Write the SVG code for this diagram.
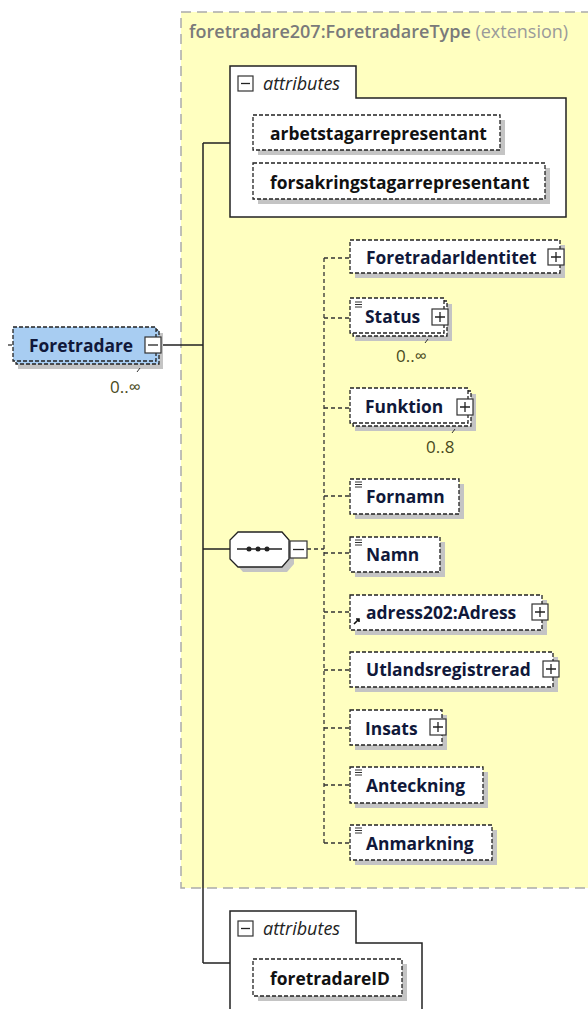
<svg xmlns="http://www.w3.org/2000/svg" width="588" height="1009" viewBox="0 0 588 1009">
<style>
.lbl{font-family:"Open Sans","Noto Sans",sans-serif;font-weight:bold;font-size:17.4px;fill:#10183a}
.attr{font-family:"Open Sans","Noto Sans",sans-serif;font-weight:bold;font-size:17.4px;fill:#111}
.it{font-family:"Open Sans","Noto Sans",sans-serif;font-style:italic;font-size:18px;fill:#222}
.card{font-family:"Open Sans","Noto Sans",sans-serif;font-size:17px;fill:#4a4a20}
.box{fill:#fff;stroke:#222;stroke-width:1.3;stroke-dasharray:4 2}
.shadow{fill:#c4c4c4}
.sq{fill:#fff;stroke:#333;stroke-width:1.2}
.sym{stroke:#222;stroke-width:1.3;fill:none}
.solid{stroke:#222;stroke-width:1.5;fill:none}
.dash{stroke:#333;stroke-width:1.3;fill:none;stroke-dasharray:4 3}
.ico{stroke:#333;stroke-width:1}
</style>
<rect width="588" height="1009" fill="#fff"/>
<g id="extension">
<rect x="181" y="12" width="420" height="876" fill="#ffffc0" stroke="#aaa" stroke-width="1.5" stroke-dasharray="10 6"/>
<text x="189" y="38" style="font-family:'Open Sans','Noto Sans',sans-serif;font-size:18px;font-weight:600;fill:#7a7a7a">foretradare207:ForetradareType <tspan style="font-weight:normal;fill:#9a9a9a">(extension)</tspan></text>
</g>
<g id="connectors">
<path class="solid" d="M160 345H203M203 143V963M203 143H230M203 549H230M203 963H230"/>
<path class="dash" d="M307 549H324M324 258V843M324 258H350M324 318H350M324 408H350M324 496H350M324 553H350M324 612H350M324 670H350M324 728H350M324 785H350M324 843H350"/>
<path class="dash" d="M8 345H14"/>
</g>
<g id="attributes1">
<path d="M230 66H356V98H566V217H230Z" fill="#fff" stroke="#222" stroke-width="1.5"/>
<rect class="sq" x="238" y="76" width="15" height="15"/><path class="sym" d="M241 83.5H250"/>
<text class="it" x="263" y="90">attributes</text>
</g>
<g id="arbetstagarrepresentant">
<rect class="shadow" x="258" y="120" width="247" height="35"/>
<rect class="box" x="253" y="115" width="247" height="35"/>
<text class="attr" x="270" y="140">arbetstagarrepresentant</text>
</g>
<g id="forsakringstagarrepresentant">
<rect class="shadow" x="258" y="168" width="292" height="36"/>
<rect class="box" x="253" y="163" width="292" height="36"/>
<text class="attr" x="270" y="189">forsakringstagarrepresentant</text>
</g>
<g id="Foretradare">
<rect class="shadow" x="18" y="333" width="145" height="36"/>
<rect x="16" y="330" width="143" height="34" fill="#a8cdf2" stroke="#222" stroke-width="1.3" stroke-dasharray="4 2"/>
<rect x="13" y="327" width="143" height="34" fill="#a8cdf2" stroke="#222" stroke-width="1.3" stroke-dasharray="4 2"/>
<text class="lbl" x="29" y="352">Foretradare</text>
<rect class="sq" x="145" y="337" width="16" height="16"/><path class="sym" d="M148 345H158"/>
<path class="ico" d="M140 368l-3 4"/>
<text class="card" x="110" y="393">0..∞</text>
</g>
<g id="sequence">
<path d="M243 537H287L294 545V564L287 572H243L236 564V545Z" fill="#c4c4c4"/>
<path d="M238 532H282L289 540V559L282 567H238L230 559V540Z" fill="#fff" stroke="#222" stroke-width="1.3"/>
<path d="M237 549H282" stroke="#222" stroke-width="1.3"/>
<circle cx="249" cy="549" r="2.5" fill="#222"/><circle cx="258" cy="549" r="2.5" fill="#222"/><circle cx="267" cy="549" r="2.5" fill="#222"/>
<rect class="sq" x="290" y="541" width="17" height="17"/><path class="sym" d="M293 549.5H304"/>
</g>
<g id="ForetradarIdentitet">
<rect class="shadow" x="355" y="245" width="210" height="33"/>
<rect class="box" x="350" y="240" width="210" height="33"/>
<text class="lbl" x="366" y="264">ForetradarIdentitet</text>
<rect class="sq" x="548" y="249" width="16" height="16"/><path class="sym" d="M551 257H561M556 252V262"/>
</g>
<g id="Status">
<rect class="shadow" x="355" y="304" width="97" height="37"/>
<rect class="box" x="353" y="301" width="94" height="35"/>
<rect class="box" x="350" y="298" width="94" height="35"/>
<path class="ico" d="M355 302h7M355 304.5h7M355 307h7"/>
<text class="lbl" x="365" y="323">Status</text>
<rect class="sq" x="432" y="309" width="16" height="16"/><path class="sym" d="M435 317H445M440 312V322"/>
<path class="ico" d="M428 339l-3 4"/>
<text class="card" x="396" y="362">0..∞</text>
</g>
<g id="Funktion">
<rect class="shadow" x="355" y="394" width="121" height="37"/>
<rect class="box" x="353" y="391" width="118" height="35"/>
<rect class="box" x="350" y="388" width="118" height="35"/>
<text class="lbl" x="365" y="413">Funktion</text>
<rect class="sq" x="457" y="399" width="16" height="16"/><path class="sym" d="M460 407H470M465 402V412"/>
<path class="ico" d="M455 429l-3 4"/>
<text class="card" x="426" y="453">0..8</text>
</g>
<g id="Fornamn">
<rect class="shadow" x="355" y="484" width="109" height="35"/>
<rect class="box" x="350" y="479" width="109" height="35"/>
<path class="ico" d="M355 482h7M355 484.5h7M355 487h7"/>
<text class="lbl" x="366" y="503">Fornamn</text>
</g>
<g id="Namn">
<rect class="shadow" x="355" y="542" width="90" height="35"/>
<rect class="box" x="350" y="537" width="90" height="35"/>
<path class="ico" d="M355 540h7M355 542.5h7M355 545h7"/>
<text class="lbl" x="366" y="561">Namn</text>
</g>
<g id="adress202_Adress">
<rect class="shadow" x="355" y="600" width="192" height="35"/>
<rect class="box" x="350" y="595" width="192" height="35"/>
<path d="M354 624l5-5M356 619h3v3" stroke="#111" stroke-width="1.6" fill="none"/>
<text class="lbl" x="366" y="619">adress202:Adress</text>
<rect class="sq" x="532" y="604" width="16" height="16"/><path class="sym" d="M535 612H545M540 607V617"/>
</g>
<g id="Utlandsregistrerad">
<rect class="shadow" x="355" y="657" width="203" height="35"/>
<rect class="box" x="350" y="652" width="203" height="35"/>
<text class="lbl" x="366" y="676">Utlandsregistrerad</text>
<rect class="sq" x="543" y="661" width="16" height="16"/><path class="sym" d="M546 669H556M551 664V674"/>
</g>
<g id="Insats">
<rect class="shadow" x="355" y="715" width="92" height="35"/>
<rect class="box" x="350" y="710" width="92" height="35"/>
<text class="lbl" x="365" y="735">Insats</text>
<rect class="sq" x="430" y="719" width="16" height="16"/><path class="sym" d="M433 727H443M438 722V732"/>
</g>
<g id="Anteckning">
<rect class="shadow" x="355" y="772" width="133" height="36"/>
<rect class="box" x="350" y="767" width="133" height="36"/>
<path class="ico" d="M355 770h7M355 772.5h7M355 775h7"/>
<text class="lbl" x="366" y="792">Anteckning</text>
</g>
<g id="Anmarkning">
<rect class="shadow" x="355" y="830" width="142" height="35"/>
<rect class="box" x="350" y="825" width="142" height="35"/>
<path class="ico" d="M355 828h7M355 830.5h7M355 833h7"/>
<text class="lbl" x="366" y="850">Anmarkning</text>
</g>
<g id="attributes2">
<path d="M230 1012V911H356V943H422V1012" fill="#fff" stroke="#222" stroke-width="1.5"/>
<rect class="sq" x="238" y="921" width="15" height="15"/><path class="sym" d="M241 928.5H250"/>
<text class="it" x="263" y="935">attributes</text>
</g>
<g id="foretradareID">
<rect class="shadow" x="258" y="964" width="149" height="37"/>
<rect class="box" x="253" y="959" width="149" height="37"/>
<text class="attr" x="270" y="985">foretradareID</text>
</g>
</svg>
